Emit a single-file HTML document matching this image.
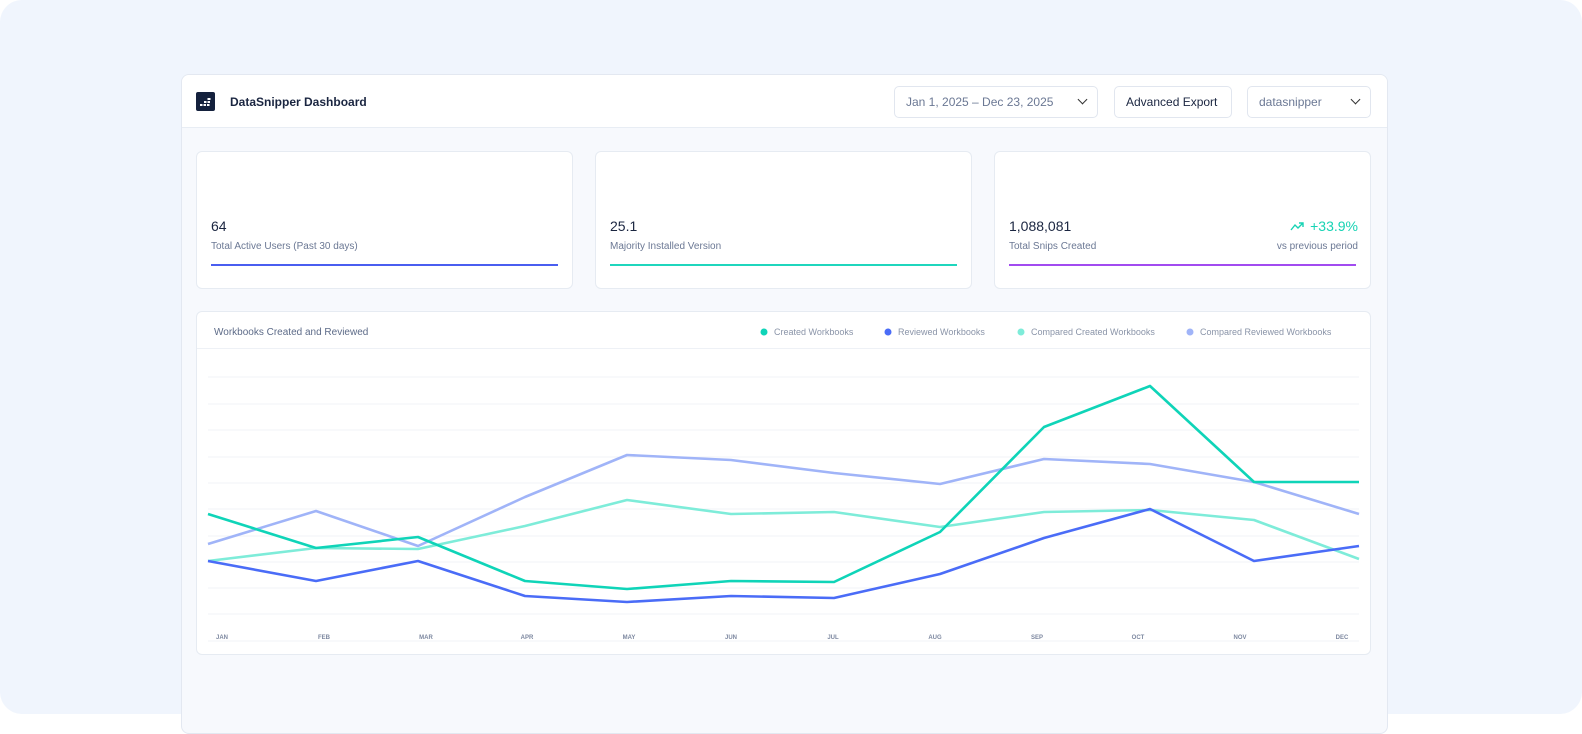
<!DOCTYPE html>
<html><head><meta charset="utf-8"><style>
*{box-sizing:border-box;margin:0;padding:0}
body{width:1582px;height:720px;background:#fff;font-family:"Liberation Sans",sans-serif;overflow:hidden;position:relative}
.bg{position:absolute;left:0;top:0;width:1582px;height:714px;background:#f0f5fd;border-radius:22px}
.panel{position:absolute;left:181px;top:74px;width:1207px;height:660px;background:#f7f9fd;border:1px solid #e3e8f1;border-radius:8px;overflow:hidden}
.hdr{position:absolute;left:0;top:0;width:100%;height:53px;background:#fff;border-bottom:1px solid #e8edf4}
.logo{position:absolute;left:14px;top:17px;width:19px;height:19px;background:#14213d;border-radius:2px}
.title{position:absolute;left:48px;top:20px;font-size:12px;font-weight:bold;color:#1a2540}
.btn{position:absolute;top:11px;height:32px;border:1px solid #e1e6ef;border-radius:5px;background:#fff;font-size:12px;line-height:30px;padding-left:11px}
.chev{position:absolute;right:11px;top:9px;width:7px;height:7px;border-right:1.6px solid #333;border-bottom:1.6px solid #333;transform:rotate(45deg)}
.card{position:absolute;top:76px;width:377px;height:138px;background:#fff;border:1px solid #e6ebf2;border-radius:6px}
.val{position:absolute;left:14px;top:66px;font-size:14px;color:#1a2540}
.lbl{position:absolute;left:14px;top:89px;font-size:10px;color:#6b7894}
.bar{position:absolute;left:14px;right:14px;top:112px;height:2px}
.chart{position:absolute;left:14px;top:236px;width:1175px;height:344px;background:#fff;border:1px solid #e6ebf2;border-radius:6px}
</style></head><body>
<div class="bg"></div>
<div class="panel">
 <div class="hdr">
  <div class="logo"><svg width="19" height="19"><g fill="#fff"><rect x="4" y="12" width="2.5" height="2"/><rect x="7.5" y="12" width="2.5" height="2"/><rect x="11" y="12" width="2.5" height="2"/><rect x="8" y="9" width="2.5" height="2"/><rect x="11.5" y="9" width="2.5" height="2"/><rect x="11.5" y="6" width="3" height="2"/></g></svg></div>
  <div class="title">DataSnipper Dashboard</div>
  <div class="btn" style="left:712px;width:204px;color:#6b7894">Jan 1, 2025 – Dec 23, 2025<div class="chev"></div></div>
  <div class="btn" style="left:932px;width:118px;color:#1a2540">Advanced Export</div>
  <div class="btn" style="left:1065px;width:124px;color:#6b7894">datasnipper<div class="chev"></div></div>
 </div>
 <div class="card" style="left:14px"><div class="val">64</div><div class="lbl">Total Active Users (Past 30 days)</div><div class="bar" style="background:#4a5ef0"></div></div>
 <div class="card" style="left:413px"><div class="val">25.1</div><div class="lbl">Majority Installed Version</div><div class="bar" style="background:#1fd6bd"></div></div>
 <div class="card" style="left:812px"><div class="val">1,088,081</div><div class="lbl">Total Snips Created</div>
  <div style="position:absolute;right:12px;top:66px;font-size:14px;color:#17d3b4"><svg width="14" height="10" style="margin-right:6px"><path d="M1 9 L5 4 L8 7 L13 2 M9 2 H13 V6" stroke="#17d3b4" stroke-width="1.4" fill="none"/></svg>+33.9%</div>
  <div style="position:absolute;right:12px;top:89px;font-size:10px;color:#6b7894">vs previous period</div>
  <div class="bar" style="background:#a24bf0"></div></div>
 <div class="chart">
  <div style="position:absolute;left:17px;top:15px;font-size:10px;color:#5d6b88">Workbooks Created and Reviewed</div>
  <div style="position:absolute;left:0;top:36px;width:100%;height:1px;background:#eef1f6"></div>
 </div>
</div>
<svg style="position:absolute;left:0;top:0" width="1582" height="720">
 <g font-size="9" fill="#8a94a8" font-family="Liberation Sans">
  <circle cx="764" cy="332" r="3.5" fill="#0fd4b8"/><text x="774" y="335">Created Workbooks</text>
  <circle cx="888" cy="332" r="3.5" fill="#4a6cf7"/><text x="898" y="335">Reviewed Workbooks</text>
  <circle cx="1021" cy="332" r="3.5" fill="#7eecd9"/><text x="1031" y="335">Compared Created Workbooks</text>
  <circle cx="1190" cy="332" r="3.5" fill="#a0b4f8"/><text x="1200" y="335">Compared Reviewed Workbooks</text>
 </g>
 <g stroke="#f1f3f7" stroke-width="1">
  <line x1="208" x2="1359" y1="377" y2="377"/><line x1="208" x2="1359" y1="404" y2="404"/><line x1="208" x2="1359" y1="430" y2="430"/><line x1="208" x2="1359" y1="457" y2="457"/><line x1="208" x2="1359" y1="483" y2="483"/><line x1="208" x2="1359" y1="509" y2="509"/><line x1="208" x2="1359" y1="536" y2="536"/><line x1="208" x2="1359" y1="562" y2="562"/><line x1="208" x2="1359" y1="588" y2="588"/><line x1="208" x2="1359" y1="614" y2="614"/><line x1="208" x2="1359" y1="641" y2="641"/>
 </g>
 <g font-size="6" fill="#7d88a0" font-weight="bold" text-anchor="middle" font-family="Liberation Sans">
  <text x="222" y="639">JAN</text><text x="324" y="639">FEB</text><text x="426" y="639">MAR</text><text x="527" y="639">APR</text><text x="629" y="639">MAY</text><text x="731" y="639">JUN</text><text x="833" y="639">JUL</text><text x="935" y="639">AUG</text><text x="1037" y="639">SEP</text><text x="1138" y="639">OCT</text><text x="1240" y="639">NOV</text><text x="1342" y="639">DEC</text>
 </g>
 <g fill="none" stroke-width="2.6" stroke-linejoin="round">
  <polyline stroke="#a0b4f8" points="208,544 316,511 418,546 525,497 627,455 731,460 834,473 940,484 1044,459 1150,464 1254,482 1359,514"/>
  <polyline stroke="#7eecd9" points="208,561 316,548 418,549 525,526 627,500 731,514 834,512 940,527 1044,512 1150,510 1254,520 1359,559"/>
  <polyline stroke="#4a6cf7" points="208,561 316,581 418,561 525,596 627,602 731,596 834,598 940,574 1044,538 1150,509 1254,561 1359,546"/>
  <polyline stroke="#0fd4b8" points="208,514 316,548 418,537 525,581 627,589 731,581 834,582 940,532 1044,427 1150,386 1254,482 1359,482"/>
 </g>
</svg>
</body></html>
